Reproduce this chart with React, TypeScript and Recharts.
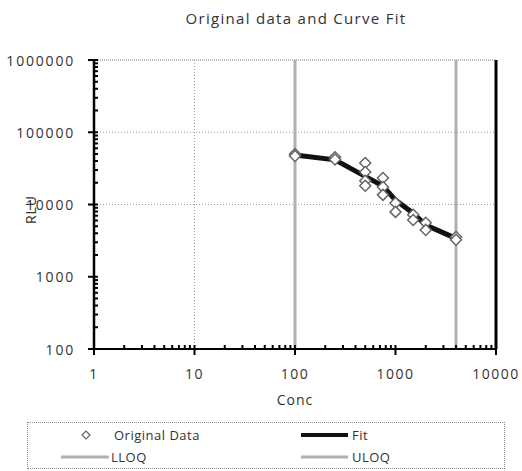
import React from 'react';
import { ComposedChart, Line, Scatter, XAxis, YAxis, ReferenceLine } from 'recharts';

const dataConc = [100, 100, 250, 250, 500, 500, 500, 500, 750, 750, 750, 1000, 1000, 1500, 1500, 2000, 2000, 4000, 4000];
const dataRLU = [50000, 47000, 45000, 42000, 37600, 28200, 21300, 18200, 23300, 17500, 13600, 10500, 7900, 7200, 6100, 5600, 4450, 3550, 3250];

const fitConc = [100, 250, 500, 750, 1000, 1500, 2000, 4000];
const fitRLU = [48500, 41500, 24500, 18000, 11500, 7600, 5200, 3400];

const xMajor = [1, 10, 100, 1000, 10000];
const yMajor = [100, 1000, 10000, 100000, 1000000];
const LLOQ = 100;
const ULOQ = 4000;
const xGrid = [10];
const yGrid = [10000, 100000];

const minorTicks = (majors: number[]) => {
  const out: number[] = [];
  for (let i = 0; i < majors.length; i++) {
    out.push(majors[i]);
    if (i < majors.length - 1) {
      for (let k = 2; k <= 9; k++) out.push(majors[i] * k);
    }
  }
  return out;
};
const xTicks = minorTicks(xMajor);
const yTicks = minorTicks(yMajor);

const scatterData = dataConc.map((x, i) => ({ x, y: dataRLU[i] }));
const fitData = fitConc.map((x, i) => ({ x, y: fitRLU[i] }));

const FONT = '"Open Sans", sans-serif';

const XTick = (props: any) => {
  const { x, y, payload } = props;
  const v = payload.value;
  const major = xMajor.includes(v);
  return (
    <g>
      <line x1={x} x2={x} y1={y - 4} y2={major ? y + 6 : y} stroke="#000" strokeWidth={2} />
      {major && (
        <text x={x} y={y + 24} textAnchor="middle" dominantBaseline="central" fontSize={14} letterSpacing={1.5} fill="#333" fontFamily={FONT}>
          {v}
        </text>
      )}
    </g>
  );
};

const YTick = (props: any) => {
  const { x, y, payload } = props;
  const v = payload.value;
  const major = yMajor.includes(v);
  return (
    <g>
      <line x1={major ? x - 6 : x} x2={x + 4} y1={y} y2={y} stroke="#000" strokeWidth={2} />
      {major && (
        <text x={x - 19} y={y} textAnchor="end" dominantBaseline="central" fontSize={14} letterSpacing={1.8} fill="#333" fontFamily={FONT}>
          {v}
        </text>
      )}
    </g>
  );
};

const Diamond = (props: any) => {
  const { cx, cy } = props;
  const r = 5.5;
  return (
    <path d={`M${cx},${cy - r}L${cx + r},${cy}L${cx},${cy + r}L${cx - r},${cy}Z`} fill="#fff" stroke="#666" strokeWidth={1.5} />
  );
};

export default function App() {
  return (
    <div style={{ position: 'absolute', left: 0, top: 0, width: 522, height: 471, background: '#fff', fontFamily: FONT }}>
      <div style={{ position: 'absolute', left: 95, width: 402, top: 8, textAlign: 'center', fontSize: 15, letterSpacing: 1.3, color: '#333' }}>
        Original data and Curve Fit
      </div>
      <ComposedChart width={522} height={471} margin={{ top: 60, right: 26, left: 0, bottom: 66 }}>
        <XAxis
          dataKey="x"
          type="number"
          scale="log"
          domain={[1, 10000]}
          ticks={xTicks}
          allowDataOverflow
          interval={0}
          tick={<XTick />}
          tickLine={false}
          tickSize={0}
          tickMargin={0}
          axisLine={{ stroke: '#000', strokeWidth: 2 }}
          height={56}
          label={{ value: 'Conc', position: 'insideBottom', offset: 0, fontSize: 14, fill: '#333', fontFamily: FONT, letterSpacing: 1 }}
        />
        <YAxis
          dataKey="y"
          type="number"
          scale="log"
          domain={[100, 1000000]}
          ticks={yTicks}
          allowDataOverflow
          interval={0}
          tick={<YTick />}
          tickLine={false}
          tickSize={0}
          tickMargin={0}
          axisLine={{ stroke: '#000', strokeWidth: 2.5 }}
          width={94}
        />
        {xGrid.map((g) => (
          <ReferenceLine key={'xg' + g} x={g} stroke="#999" strokeDasharray="1 2" />
        ))}
        {yGrid.map((g) => (
          <ReferenceLine key={'yg' + g} y={g} stroke="#999" strokeDasharray="1 2" />
        ))}
        <ReferenceLine y={1000000} stroke="#777" strokeDasharray="1 1" />
        <ReferenceLine x={10000} stroke="#000" strokeWidth={3} />
        <ReferenceLine x={LLOQ} stroke="#b0b0b0" strokeWidth={3} />
        <ReferenceLine x={ULOQ} stroke="#b0b0b0" strokeWidth={3} />
        <Line data={fitData} dataKey="y" type="linear" stroke="#111" strokeWidth={5} dot={false} isAnimationActive={false} />
        <Scatter data={scatterData} dataKey="y" shape={<Diamond />} isAnimationActive={false} />
      </ComposedChart>
      <div style={{ position: 'absolute', left: 20, top: 196, width: 16, height: 24 }}>
        <div style={{ position: 'absolute', left: -4, top: 4, transform: 'rotate(-90deg)', fontSize: 14, color: '#333', letterSpacing: 1 }}>RLU</div>
      </div>
      <div style={{ position: 'absolute', left: 27, top: 422, width: 476, height: 45, border: '1px dotted #888', fontSize: 13, color: '#333', letterSpacing: 0.5 }}>
        <svg style={{ position: 'absolute', left: 0, top: 0 }} width={476} height={45}>
          <path d="M58,8L62,12L58,16L54,12Z" fill="#fff" stroke="#666" strokeWidth={1.2} />
          <line x1={273} x2={320} y1={12} y2={12} stroke="#111" strokeWidth={4} />
          <line x1={33} x2={81} y1={34} y2={34} stroke="#b0b0b0" strokeWidth={3} />
          <line x1={273} x2={320} y1={34} y2={34} stroke="#b0b0b0" strokeWidth={3} />
        </svg>
        <div style={{ position: 'absolute', left: 86, top: 3 }}>Original Data</div>
        <div style={{ position: 'absolute', left: 324, top: 3 }}>Fit</div>
        <div style={{ position: 'absolute', left: 83, top: 25 }}>LLOQ</div>
        <div style={{ position: 'absolute', left: 324, top: 25 }}>ULOQ</div>
      </div>
    </div>
  );
}
